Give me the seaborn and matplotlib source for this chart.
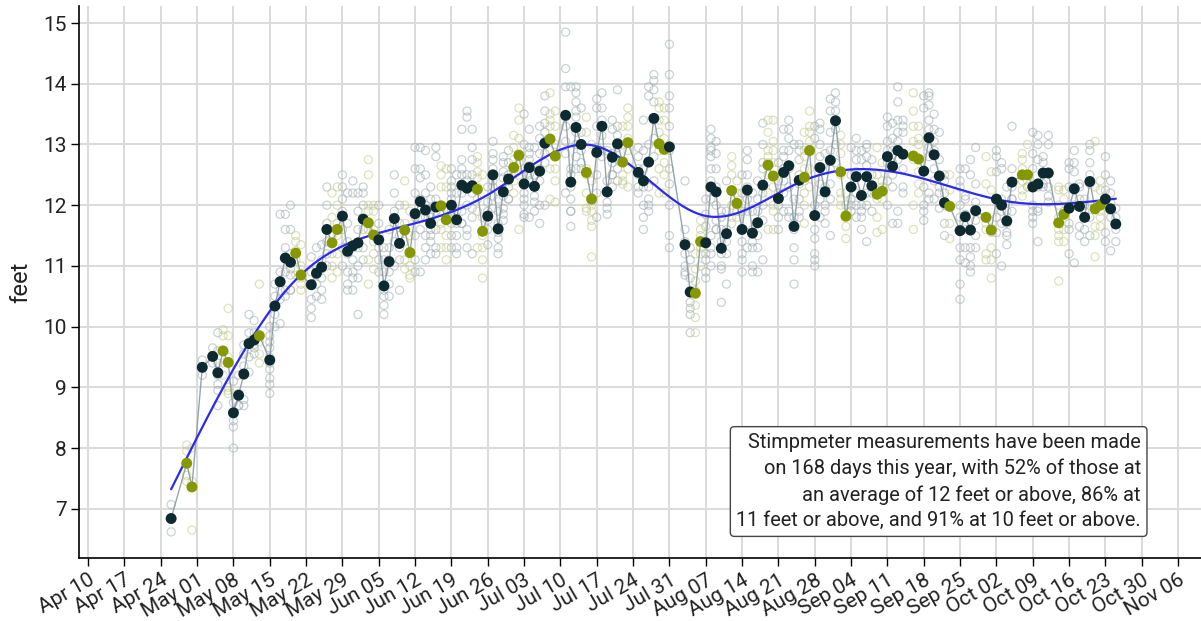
import numpy as np
import pandas as pd
import matplotlib
matplotlib.use('Agg')
import matplotlib.pyplot as plt
import matplotlib.dates as mdates
import seaborn as sns

YEAR = 2023

# measurement days (month-day)
dates = [
    '04-26', '04-29', '04-30',
    '05-02', '05-04', '05-05', '05-06', '05-07', '05-08', '05-09', '05-10', '05-11', '05-12', '05-13',
    '05-15', '05-16', '05-17', '05-18', '05-19', '05-20', '05-21', '05-23', '05-24', '05-25', '05-26',
    '05-27', '05-28', '05-29', '05-30', '05-31',
    '06-01', '06-02', '06-03', '06-04', '06-05', '06-06', '06-07', '06-08', '06-09', '06-10', '06-11',
    '06-12', '06-13', '06-14', '06-15', '06-16', '06-17', '06-18', '06-19', '06-20', '06-21', '06-22',
    '06-23', '06-24', '06-25', '06-26', '06-27', '06-28', '06-29', '06-30',
    '07-01', '07-02', '07-03', '07-04', '07-05', '07-06', '07-07', '07-08', '07-09', '07-11', '07-12',
    '07-13', '07-14', '07-15', '07-16', '07-17', '07-18', '07-19', '07-20', '07-21', '07-22', '07-23',
    '07-25', '07-26', '07-27', '07-28', '07-29', '07-30', '07-31',
    '08-03', '08-04', '08-05', '08-06', '08-07', '08-08', '08-09', '08-10', '08-11', '08-12', '08-13',
    '08-14', '08-15', '08-16', '08-17', '08-18', '08-19', '08-20', '08-21', '08-22', '08-23', '08-24',
    '08-25', '08-26', '08-27', '08-28', '08-29', '08-30', '08-31',
    '09-01', '09-02', '09-03', '09-04', '09-05', '09-06', '09-07', '09-08', '09-09', '09-10', '09-11',
    '09-12', '09-13', '09-14', '09-16', '09-17', '09-18', '09-19', '09-20', '09-21', '09-22', '09-23',
    '09-25', '09-26', '09-27', '09-28', '09-30',
    '10-01', '10-02', '10-03', '10-04', '10-05', '10-07', '10-08', '10-09', '10-10', '10-11', '10-12',
    '10-14', '10-15', '10-16', '10-17', '10-18', '10-19', '10-20', '10-21', '10-22', '10-23', '10-24',
    '10-25',
]

# daily average stimpmeter reading (feet)
daily_mean = [
    6.84, 7.75, 7.36,
    9.33, 9.51, 9.24, 9.60, 9.41, 8.58, 8.87, 9.22, 9.72, 9.78, 9.85,
    9.45, 10.34, 10.74, 11.13, 11.06, 11.21, 10.85, 10.69, 10.88, 10.98, 11.60,
    11.38, 11.60, 11.82, 11.24, 11.33,
    11.38, 11.77, 11.71, 11.51, 11.43, 10.67, 11.07, 11.78, 11.37, 11.59, 11.22,
    11.86, 12.06, 11.92, 11.70, 11.97, 11.99, 11.76, 12.00, 11.76, 12.33, 12.28,
    12.32, 12.26, 11.57, 11.82, 12.50, 11.61, 12.22, 12.43,
    12.62, 12.82, 12.35, 12.62, 12.31, 12.56, 13.02, 13.09, 12.81, 13.48, 12.38,
    13.28, 13.00, 12.54, 12.10, 12.87, 13.30, 12.22, 12.79, 13.01, 12.71, 13.03,
    12.54, 12.40, 12.71, 13.43, 13.01, 12.92, 12.96,
    11.35, 10.57, 10.55, 11.40, 11.38, 12.30, 12.22, 11.29, 11.53, 12.24, 12.03,
    11.60, 12.25, 11.54, 11.71, 12.33, 12.66, 12.48, 12.11, 12.54, 12.65, 11.65,
    12.41, 12.46, 12.90, 11.83, 12.62, 12.22, 12.74,
    13.39, 12.55, 11.82, 12.30, 12.47, 12.16, 12.47, 12.32, 12.18, 12.23, 12.80,
    12.64, 12.90, 12.84, 12.81, 12.76, 12.56, 13.11, 12.83, 12.48, 12.04, 11.98,
    11.58, 11.81, 11.59, 11.91, 11.80,
    11.59, 12.10, 12.00, 11.74, 12.38, 12.50, 12.50, 12.30, 12.35, 12.53, 12.53,
    11.71, 11.85, 11.95, 12.27, 11.98, 11.80, 12.39, 11.94, 12.00, 12.10, 11.94,
    11.69,
]

# individual readings per day (feet), same order as dates
readings = [
    '7.07 6.84 6.62', '8.05 7.95 7.55 7.45', '8.0 7.45 6.65',
    '9.45 9.33 9.2', '9.65 9.5 9.4', '9.9 9.6 9.4 9.2 9.05 8.95 8.7', '9.95 9.85 9.6 9.4 9.2',
    '10.3 9.85 9.5 9.0 8.9 8.95', '9.1 8.75 8.6 8.45 8.35 8.0', '9.2 8.9 8.7 8.7',
    '9.7 9.55 9.35 9.2 8.8 8.7', '10.2 9.9 9.75 9.5 9.25', '10.1 9.9 9.7 9.55 9.65',
    '10.7 9.85 9.75 9.55 9.4',
    '10.0 9.85 9.75 9.65 9.5 9.4 9.3 9.15 9.05 8.9', '10.7 10.5 10.35 10.2 10.0',
    '11.85 10.9 10.75 10.6 10.45 10.05', '11.85 11.6 11.3 10.9 10.6 10.5',
    '12.0 11.6 11.2 10.85 10.6 10.6 10.95', '11.5 11.4 11.25 11.1 10.85', '11.35 11.0 10.8 10.7 10.6',
    '11.15 10.9 10.7 10.45 10.3 10.15', '11.3 11.0 10.85 10.7 10.5', '11.35 11.1 10.95 10.8 10.6 10.45',
    '12.3 12.0 11.7 11.4 11.2 11.0',
    '12.2 11.8 11.5 11.2 11.0 10.8', '12.3 12.0 11.7 11.5 11.2 10.9', '12.5 12.3 12.1 11.9 11.6 11.3 11.0',
    '12.2 11.7 11.4 11.2 10.9 10.6 10.7', '12.4 12.2 11.3 11.1 10.9 10.8 10.6',
    '12.2 11.9 11.6 11.3 11.0 10.8 10.2', '12.3 12.2 12.0 11.6 11.3 11.1',
    '12.75 12.5 12.0 11.9 11.6 11.1 10.7', '12.0 11.9 11.6 11.4 11.2 10.95',
    '12.0 11.7 11.5 11.3 11.1 10.9', '11.3 11.1 10.9 10.6 10.5 10.35 10.2',
    '11.6 11.3 11.1 10.9 10.7 10.5', '12.5 12.2 11.9 11.7 11.4 11.0',
    '12.0 11.7 11.5 11.3 11.1 10.6', '12.4 12.0 11.7 11.4 11.1 10.95',
    '11.9 11.5 11.2 11.0 10.85 10.8',
    '12.95 12.6 12.2 11.8 11.5 11.1 10.9', '12.95 12.6 12.45 12.1 11.8 11.6 10.9',
    '12.9 12.5 12.2 12.0 11.8 11.5 11.3 11.1', '12.3 12.1 11.8 11.6 11.5 11.4 11.2',
    '12.95 12.8 12.1 11.9 11.6 11.3 11.2', '12.65 12.5 12.3 11.9 11.7 11.6 11.3',
    '12.6 12.3 11.8 11.5 11.3 11.1', '12.6 12.4 12.3 12.2 12.1 11.9 11.7 11.5 11.3',
    '12.5 12.2 11.9 11.7 11.5 11.3 11.2', '13.25 12.75 12.6 12.5 12.2 11.9 11.7 11.7',
    '13.55 13.45 12.5 12.4 12.0 11.6 11.5 11.3',
    '13.25 12.95 12.75 12.5 12.2 11.95 11.8 11.2', '12.8 12.7 12.55 12.45 12.3 12.1 11.9 11.3',
    '12.5 11.8 11.5 11.3 11.1 10.8', '12.3 12.05 11.9 11.75 11.6 11.35',
    '13.05 12.85 12.75 12.6 12.4 12.3 12.15 11.95', '12.1 11.9 11.7 11.6 11.55 11.45 11.3 11.2',
    '12.8 12.7 12.55 12.45 12.15 11.95 11.85 11.75', '12.9 12.7 12.5 12.4 12.3 12.1 12.1',
    '13.15 12.95 12.75 12.55 12.4 12.2', '13.6 13.4 13.1 12.85 12.7 12.5 11.6',
    '13.5 13.0 12.6 12.2 12.1 12.0 11.85 11.8', '13.25 12.95 12.85 12.75 12.65 12.5 12.4 11.8',
    '12.95 12.5 12.3 12.15 12.05 11.9', '13.3 13.1 12.85 12.6 12.4 12.0 11.7',
    '13.8 13.55 13.35 13.2 13.05 12.85 12.7 12.0', '13.85 13.5 13.4 13.3 12.9 12.6 12.1',
    '13.55 13.3 13.0 12.6 12.4 12.05', '14.85 14.25 13.95 13.45 13.3 13.05 12.85 12.2',
    '13.95 12.6 12.5 12.3 12.1 11.9 11.9 11.65',
    '13.95 13.85 13.7 13.55 13.45 13.2 13.0 12.8 12.6', '13.6 13.2 13.0 12.9 12.7 12.6',
    '13.45 13.2 12.6 12.5 12.2 11.95 11.9', '13.0 12.4 12.0 11.9 11.75 11.65 11.15',
    '13.75 13.6 13.3 12.95 12.85 12.5 12.2 11.8', '13.85 13.6 13.4 13.3 13.15 12.9 12.8',
    '12.9 12.4 12.2 12.2 12.05 11.95 11.85', '13.4 13.25 12.85 12.7 12.5 12.5 12.3',
    '13.9 13.3 13.15 12.95 12.75 12.6 12.4', '13.3 13.0 12.7 12.5 12.4 12.35',
    '13.6 13.45 13.3 13.1 12.9 12.6 12.3',
    '12.95 12.8 12.6 12.5 12.3 12.2', '13.4 12.9 12.6 12.3 12.0 11.8 11.6',
    '13.95 13.8 13.0 12.7 12.3 12.1 12.0 11.9', '14.15 14.05 13.9 13.7 13.4 13.1 12.8 12.4',
    '13.7 13.6 13.4 13.2 12.9 12.6 12.2', '13.6 13.4 13.1 12.9 12.7 12.5 12.2',
    '14.65 14.15 13.8 13.6 13.3 12.9 12.6 12.35 12.0 11.5 11.3',
    '12.4 11.6 11.4 11.2 11.0 10.9 10.85', '11.3 11.1 10.8 10.6 10.4 10.3 10.2 9.9',
    '11.2 10.95 10.75 10.6 10.55 10.35 10.15 9.9', '11.75 11.6 11.5 11.4 11.3 11.2 11.0',
    '12.1 11.85 11.65 11.4 11.2 11.1 10.9 10.8',
    '13.25 13.1 12.95 12.9 12.8 12.6 12.4 12.1 11.5 11.3 11.2 11.0',
    '13.05 12.85 12.6 12.3 12.0 11.75 11.6 11.6', '11.9 11.8 11.6 11.4 11.2 11.0 10.95 10.4',
    '12.4 11.9 11.6 11.4 11.2 10.7', '12.8 12.65 12.5 12.25 12.0 11.8 11.7',
    '12.4 12.2 12.0 11.9 11.9 11.8',
    '12.5 12.2 11.9 11.4 11.2 11.1 10.9', '12.9 12.75 12.5 12.3 12.1 11.9 11.3',
    '12.2 11.9 11.6 11.4 11.3 11.0 10.9', '12.4 12.1 11.9 11.7 11.5 11.3 10.9',
    '13.35 13.0 12.7 12.6 12.2 12.0 11.75 11.1', '13.4 13.2 12.9 12.8 12.7 12.5 12.2 11.6',
    '13.4 13.05 12.9 12.7 12.3 12.0 11.9 11.6', '12.7 12.4 12.2 12.0 11.8 11.6',
    '13.25 12.9 12.8 12.6 12.4 12.2 11.9', '13.4 13.25 13.1 12.9 12.6 12.3 11.9 11.8',
    '13.0 12.1 11.8 11.6 11.3 11.1 10.7',
    '13.0 12.9 12.75 12.5 12.35 12.1 11.9 11.8', '13.2 12.9 12.8 12.6 12.4 12.2 12.0 11.7',
    '13.55 13.3 13.2 13.05 12.9 12.6 12.3', '13.3 13.1 12.0 11.6 11.45 11.2 11.1 11.0',
    '13.35 13.25 13.0 12.8 12.6 12.35 12.1 11.8', '12.85 12.6 12.3 12.0 11.9 11.7',
    '13.75 13.55 13.2 12.9 12.6 12.35 12.1 11.5',
    '13.85 13.7 13.55 13.4 13.25 13.0 12.7', '13.15 13.0 12.85 12.5 12.2 12.1 12.0',
    '12.2 12.0 11.85 11.8 11.65 11.45', '12.95 12.5 12.3 12.1 12.0 11.9',
    '13.1 12.9 12.75 12.55 12.2 12.0 11.8', '12.9 12.75 12.0 11.9 11.8 11.6',
    '13.0 12.95 12.8 12.65 12.2 12.0 11.4', '12.75 12.5 12.3 12.2 11.9',
    '12.95 12.5 12.2 12.1 11.8 11.55', '12.7 12.4 12.3 12.1 11.6',
    '13.45 13.3 13.05 12.9 12.7 12.4 12.0',
    '13.35 13.1 12.9 12.7 12.5 12.3 11.7', '13.95 13.7 13.4 13.2 13.05 12.75 11.9 11.7',
    '13.4 13.3 13.2 12.85 12.6 12.3 12.2', '13.85 13.55 13.3 13.05 12.75 12.0 11.6',
    '13.3 13.1 13.0 12.75 12.55 12.35 12.2', '13.8 13.6 12.3 12.0 11.9 11.75',
    '13.85 13.8 13.65 13.4 13.25 12.95 12.8 12.2 12.1', '13.5 13.25 13.05 12.9 12.6 12.4 12.1',
    '13.2 12.75 12.5 12.3 12.2 11.95', '12.5 12.4 12.2 12.0 11.7 11.5',
    '12.5 12.25 12.0 11.7 11.45',
    '12.6 12.4 12.3 12.0 11.8 11.6 11.3 11.1 10.7 10.45', '12.6 12.15 12.1 11.85 11.6 11.3 11.05',
    '12.75 12.5 11.6 11.3 11.15 11.0 10.9', '12.95 12.35 12.05 11.75 11.5 11.3',
    '12.8 12.35 11.7 11.6 11.2 11.1',
    '12.55 12.25 11.55 11.3 11.1 10.8', '12.9 12.8 12.55 11.8 11.55 11.2',
    '12.7 12.6 12.1 11.9 11.7 11.0', '12.3 11.9 11.7 11.55 11.5 11.35',
    '13.3 12.6 12.3 12.1 12.1 11.9', '12.85 12.75 12.6 12.4 12.25 12.15',
    '13.0 12.5 12.4 12.3 12.3', '13.2 12.85 12.6 12.0 11.9 11.8 11.7',
    '13.15 13.0 12.75 12.3 11.95 11.9 11.4', '12.8 12.7 12.5 12.35 12.3',
    '13.15 13.0 12.3 12.15 12.05',
    '12.3 12.25 12.0 11.8 11.6 11.5 11.4 10.75', '12.25 12.1 11.9 11.6 11.4',
    '12.7 12.6 12.3 11.7 11.6 11.2', '12.9 12.7 12.55 12.25 12.0 11.05',
    '12.35 12.3 12.1 11.65 11.5', '12.1 12.0 11.9 11.6 11.4',
    '13.0 12.9 12.7 12.5 12.35 11.8 11.5', '13.05 12.3 12.0 11.65 11.5 11.15',
    '12.4 12.25 11.9 11.8 11.65', '12.8 12.5 12.25 12.1 11.55 11.4',
    '12.4 12.2 12.05 11.8 11.25',
    '11.95 11.8 11.6 11.4',
]

note = ('Stimpmeter measurements have been made\n'
        'on 168 days this year, with 52% of those at\n'
        'an average of 12 feet or above, 86% at\n'
        '11 feet or above, and 91% at 10 feet or above.')


def ns_basis(x, knots):
    # natural cubic spline basis
    def d(k):
        return (np.clip(x - knots[k], 0, None) ** 3 - np.clip(x - knots[-1], 0, None) ** 3) / (knots[-1] - knots[k])
    cols = [np.ones_like(x), x]
    for k in range(len(knots) - 2):
        cols.append(d(k) - d(len(knots) - 2))
    return np.vstack(cols).T


def spline_smooth(x, y, xs, n_knots=10):
    # penalised regression spline (like a gam smooth), lambda picked by GCV
    lo, hi = x.min(), x.max()
    u = (x - lo) / (hi - lo)
    us = (xs - lo) / (hi - lo)
    knots = np.quantile(np.unique(u), np.linspace(0, 1, n_knots))
    B = ns_basis(u, knots)
    g = np.linspace(0, 1, 2001)
    Bg = ns_basis(g, knots)
    D2 = np.diff(Bg, 2, axis=0) / (g[1] - g[0]) ** 2
    S = D2.T @ D2 * (g[1] - g[0])
    BtB, Bty = B.T @ B, B.T @ y
    best = None
    for lam in np.logspace(-8, 0, 60):
        A = np.linalg.solve(BtB + lam * S, np.eye(B.shape[1]))
        beta = A @ Bty
        edf = np.trace(A @ BtB)
        rss = np.sum((y - B @ beta) ** 2)
        gcv = len(y) * rss / (len(y) - edf) ** 2
        if best is None or gcv < best[0]:
            best = (gcv, beta)
    return ns_basis(us, knots) @ best[1]


def main():
    means_df = pd.DataFrame({
        'date': pd.to_datetime([f'{YEAR}-{d}' for d in dates]),
        'feet': daily_mean,
    })
    means_df['weekend'] = means_df['date'].dt.dayofweek >= 5

    rows = []
    for d, r in zip(means_df['date'], readings):
        for v in r.split():
            rows.append((d, float(v)))
    reads_df = pd.DataFrame(rows, columns=['date', 'feet'])
    reads_df['weekend'] = reads_df['date'].dt.dayofweek >= 5

    # smooth trend through all the individual readings
    t0 = means_df['date'].min()
    x = (reads_df['date'] - t0).dt.days.to_numpy(float)
    xs = np.linspace(x.min(), x.max(), 300)
    smooth_df = pd.DataFrame({
        'date': t0 + pd.to_timedelta(xs, unit='D'),
        'feet': spline_smooth(x, reads_df['feet'].to_numpy(), xs),
    })

    sns.set_style('whitegrid')
    plt.rcParams['font.family'] = ['Roboto', 'DejaVu Sans']

    fig = plt.figure(figsize=(12.01, 6.21), dpi=100)
    ax = fig.add_axes([79 / 1201, 63 / 621, 1122 / 1201, 552 / 621])

    wk = reads_df[~reads_df['weekend']]
    we = reads_df[reads_df['weekend']]
    sns.scatterplot(data=wk, x='date', y='feet', ax=ax, color='#a0adb1', facecolor='none',
                    edgecolor='#a0adb1', s=34, linewidth=0.9, alpha=0.55, legend=False)
    sns.scatterplot(data=we, x='date', y='feet', ax=ax, color='#c3ca8a', facecolor='none',
                    edgecolor='#c3ca8a', s=34, linewidth=0.9, alpha=0.55, legend=False)

    sns.lineplot(data=means_df, x='date', y='feet', ax=ax, color='#8a9ca1', linewidth=1.0,
                 alpha=0.9, estimator=None)
    sns.lineplot(data=smooth_df, x='date', y='feet', ax=ax, color='#2b2bf0', linewidth=1.6)
    sns.scatterplot(data=means_df, x='date', y='feet', hue='weekend', ax=ax,
                    palette={False: '#0e2a31', True: '#869800'}, s=62, edgecolor='none',
                    legend=False, zorder=5)

    ax.set_xlim(pd.Timestamp(f'{YEAR}-04-08 06:00'), pd.Timestamp(f'{YEAR}-11-10 10:00'))
    ax.set_ylim(6.19, 15.28)
    ax.set_xticks(pd.date_range(f'{YEAR}-04-10', f'{YEAR}-11-06', freq='7D'))
    ax.xaxis.set_major_formatter(mdates.DateFormatter('%b %d'))
    ax.set_yticks(range(7, 16))

    ax.grid(True, color='#dbdbdb', linewidth=1.4)
    for side in ['top', 'right']:
        ax.spines[side].set_visible(False)
    for side in ['left', 'bottom']:
        ax.spines[side].set_color('black')
        ax.spines[side].set_linewidth(1.2)
    ax.tick_params(axis='both', direction='out', length=6, width=1, color='black',
                   labelsize=15, labelcolor='#222222', pad=3, bottom=True, left=True)
    plt.setp(ax.get_xticklabels(), rotation=30, ha='right', rotation_mode='anchor')

    ax.set_xlabel('')
    ax.set_ylabel('feet', fontsize=17, color='#222222', labelpad=8)

    ax.text(0.9465, 0.05, note, transform=ax.transAxes, ha='right', va='bottom',
            fontsize=14.4, color='#222222', linespacing=1.45, zorder=6,
            bbox=dict(boxstyle='round,pad=0.3,rounding_size=0.2', fc='white', ec='#444444', lw=1))

    fig.savefig('out.png', dpi=100)
    plt.close(fig)


if __name__ == '__main__':
    main()
